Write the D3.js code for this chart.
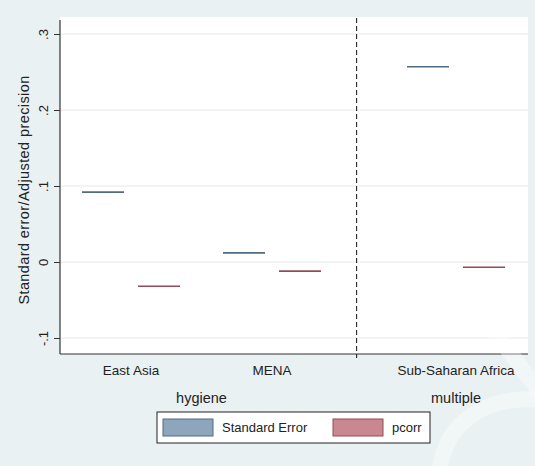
<!DOCTYPE html>
<html><head><meta charset="utf-8">
<script src="https://cdn.jsdelivr.net/npm/d3@7"></script>
<style>
html,body{margin:0;padding:0;background:#eaf1f3;}
svg{display:block;font-family:"Liberation Sans",Arial,sans-serif;}
</style></head>
<body>
<svg id="chart" width="535" height="466"></svg>
<script>
// ---- data ----
const categories = ["East Asia", "MENA", "Sub-Saharan Africa"];
const groups = ["hygiene", "hygiene", "multiple"];
const groupNames = ["hygiene", "multiple"];
const seriesNames = ["Standard Error", "pcorr"];
const standardError = [0.092, 0.012, 0.257];
const pcorr = [-0.032, -0.012, -0.007];
const yTicks = [-0.1, 0, 0.1, 0.2, 0.3];
const yTickLabels = ["-.1", "0", ".1", ".2", ".3"];
const colors = {"Standard Error": "#4f6c82", "pcorr": "#904c58"};
const fills = {"Standard Error": "#8ea6bc", "pcorr": "#c9878f"};

const svg = d3.select("#chart");
const W = 535, H = 466;
svg.append("rect").attr("width", W).attr("height", H).attr("fill", "#eaf1f3");

const plot = {left: 60, right: 528, top: 18, bottom: 354};
svg.append("rect").attr("x", plot.left).attr("y", plot.top - 1)
  .attr("width", plot.right - plot.left).attr("height", plot.bottom - plot.top + 1)
  .attr("fill", "#ffffff");

// y scale
const y = d3.scaleLinear().domain([-0.1, 0.3]).range([338, 34]);

// x: slot positions with extra gap between outer groups
const groupGap = 0.305;
const slot = categories.map((c, i) => i + groupGap * groupNames.indexOf(groups[i]));
const x = d3.scaleLinear().domain([0, 1]).range([131, 272]);
const inner = d3.scaleBand().domain(seriesNames).range([-49, 49]).paddingInner(0.25);

// gridlines
svg.append("g").selectAll("line").data(yTicks).join("line")
  .attr("x1", plot.left + 1).attr("x2", plot.right)
  .attr("y1", d => y(d)).attr("y2", d => y(d))
  .attr("stroke", "#e6e9ea").attr("stroke-width", 1);

// y axis
const yAxis = d3.axisLeft(y).tickValues(yTicks).tickSize(6).tickFormat((d, i) => yTickLabels[i]);
const ya = svg.append("g").attr("transform", `translate(${plot.left},0)`).call(yAxis);
ya.select(".domain").attr("d", `M0,${plot.top + 2}V${plot.bottom}`).attr("stroke", "#333").attr("stroke-width", 1.2);
ya.selectAll(".tick line").attr("stroke", "#333");
ya.selectAll(".tick text")
  .attr("font-size", 13).attr("fill", "#222")
  .attr("x", 0).attr("dy", 0)
  .attr("transform", "translate(-12,0) rotate(-90)")
  .attr("text-anchor", "middle");

// bottom axis line
svg.append("line").attr("x1", plot.left).attr("x2", plot.right)
  .attr("y1", plot.bottom).attr("y2", plot.bottom)
  .attr("stroke", "#333").attr("stroke-width", 1.2);

// group separator (dashed)
const sepX = x(1.6);
svg.append("line").attr("x1", sepX).attr("x2", sepX)
  .attr("y1", plot.top).attr("y2", plot.bottom + 4)
  .attr("stroke", "#222").attr("stroke-width", 1.1).attr("stroke-dasharray", "5,3");

// marks: horizontal lines
const rows = [];
categories.forEach((c, i) => {
  rows.push({cat: c, s: "Standard Error", v: standardError[i], i});
  rows.push({cat: c, s: "pcorr", v: pcorr[i], i});
});
svg.append("g").selectAll("line").data(rows).join("line")
  .attr("x1", d => x(slot[d.i]) + inner(d.s))
  .attr("x2", d => x(slot[d.i]) + inner(d.s) + inner.bandwidth())
  .attr("y1", d => y(d.v)).attr("y2", d => y(d.v))
  .attr("stroke", d => colors[d.s]).attr("stroke-width", 1.6);

// category labels
svg.append("g").selectAll("text").data(categories).join("text")
  .attr("x", (d, i) => x(slot[i])).attr("y", 375)
  .attr("text-anchor", "middle").attr("font-size", 13.5).attr("fill", "#222")
  .text(d => d);

// group labels
groupNames.forEach(g => {
  const idx = categories.map((c, i) => i).filter(i => groups[i] === g);
  const cx = d3.mean(idx, i => x(slot[i]));
  svg.append("text").attr("x", cx).attr("y", 403)
    .attr("text-anchor", "middle").attr("font-size", 14.5).attr("fill", "#222").text(g);
});

// y title
svg.append("text").attr("transform", "translate(29,190) rotate(-90)")
  .attr("text-anchor", "middle").attr("font-size", 14.5).attr("fill", "#222")
  .attr("letter-spacing", 0.4)
  .text("Standard error/Adjusted precision");

// legend
const lg = svg.append("g");
lg.append("rect").attr("x", 157).attr("y", 412).attr("width", 273).attr("height", 31)
  .attr("fill", "#fff").attr("stroke", "#222").attr("stroke-width", 1);
const legX = [163, 333];
seriesNames.forEach((s, i) => {
  lg.append("rect").attr("x", legX[i]).attr("y", 419).attr("width", 50).attr("height", 17)
    .attr("fill", fills[s]).attr("stroke", colors[s]).attr("stroke-width", 1);
  lg.append("text").attr("x", legX[i] + 59).attr("y", 432)
    .attr("font-size", 13).attr("fill", "#222").text(s);
});

// faint watermark strokes
const wm = svg.append("g").attr("fill", "none").attr("stroke", "#ffffff").attr("stroke-opacity", 0.35).attr("stroke-width", 16);
wm.append("path").attr("d", "M470,300 L540,392");
wm.append("path").attr("d", "M440,470 C445,420 490,395 540,400");
</script>
</body></html>
